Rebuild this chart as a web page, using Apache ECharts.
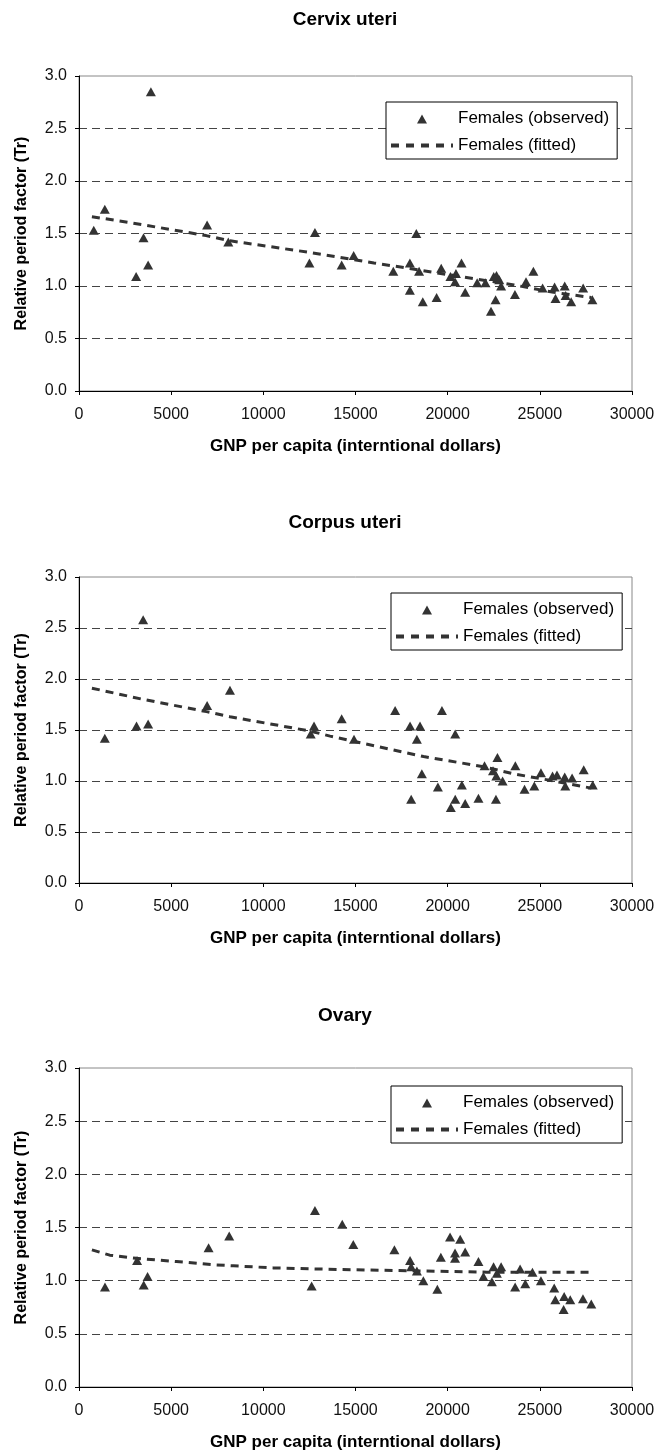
<!DOCTYPE html>
<html>
<head>
<meta charset="utf-8">
<title>Relative period factor vs GNP per capita</title>
<script src="https://cdn.jsdelivr.net/npm/echarts@6.0.0/dist/echarts.min.js"></script>
<style>
  html, body { margin: 0; padding: 0; background: #fff; }
  #chart { width: 659px; height: 1456px; }
</style>
</head>
<body>
<div id="chart"></div>
<script>
// titles and labels
const panelTitles = ['Cervix uteri', 'Corpus uteri', 'Ovary']
const observedName = 'Females (observed)'
const fittedName = 'Females (fitted)'
const xAxisName = 'GNP per capita (interntional dollars)'
const yAxisName = 'Relative period factor (Tr)'
const xMax = 30000
const xStep = 5000
const yMax = 3
const yStep = 0.5

// [GNP per capita, Tr]
const cervixObserved = [
  [800, 1.53], [1400, 1.73], [3900, 2.85], [3100, 1.09], [3500, 1.46], [3750, 1.20],
  [6950, 1.58], [8100, 1.42], [12800, 1.51], [12500, 1.22], [14250, 1.20], [14900, 1.29],
  [18300, 1.50], [17050, 1.14], [17950, 1.22], [17950, 0.96], [18450, 1.14], [18650, 0.85],
  [19400, 0.89], [19650, 1.17], [20150, 1.09], [20400, 1.04], [20450, 1.12], [20750, 1.22],
  [20950, 0.94], [21600, 1.03], [22050, 1.03], [22500, 1.09], [22650, 1.10], [22800, 1.06],
  [22900, 1.00], [22600, 0.87], [22350, 0.76], [23650, 0.92], [24250, 1.04], [24650, 1.14],
  [25150, 0.98], [25800, 0.99], [25850, 0.88], [26350, 1.00], [26400, 0.91], [26700, 0.85],
  [27350, 0.98], [27850, 0.87]
]
const cervixFitted = [
  [700, 1.66], [2900, 1.60], [6900, 1.48], [8200, 1.43], [12500, 1.32], [16000, 1.22],
  [19250, 1.13], [21400, 1.07], [23600, 1.01], [25750, 0.94], [27800, 0.89]
]

const corpusObserved = [
  [1400, 1.42], [3480, 2.58], [3120, 1.54], [3750, 1.56], [6950, 1.74], [8190, 1.89],
  [12750, 1.54], [12570, 1.46], [14250, 1.61], [14920, 1.41], [17150, 1.69], [17960, 1.54],
  [18500, 1.54], [18330, 1.41], [18600, 1.07], [18020, 0.82], [19690, 1.69], [20410, 1.46],
  [19470, 0.94], [20770, 0.96], [20410, 0.82], [20170, 0.74], [20950, 0.78], [21670, 0.83],
  [22000, 1.15], [22700, 1.23], [22460, 1.10], [22640, 1.05], [22980, 1.00], [22620, 0.82],
  [23670, 1.15], [24170, 0.92], [24700, 0.95], [25060, 1.08], [25690, 1.05], [25930, 1.06],
  [26350, 1.04], [26380, 0.95], [26750, 1.03], [27380, 1.11], [27870, 0.96]
]
const corpusFitted = [
  [700, 1.91], [3480, 1.80], [6920, 1.68], [8190, 1.63], [12530, 1.49], [13620, 1.44],
  [14880, 1.39], [18690, 1.24], [21940, 1.14], [23580, 1.07], [25750, 1.00], [27800, 0.93]
]

const ovaryObserved = [
  [1410, 0.94], [3150, 1.19], [3510, 0.96], [3720, 1.04], [7030, 1.31], [8150, 1.42],
  [12800, 1.66], [12620, 0.95], [14280, 1.53], [14880, 1.34], [17110, 1.29], [17960, 1.19],
  [18020, 1.13], [18330, 1.09], [18680, 1.00], [19440, 0.92], [19630, 1.22], [20130, 1.41],
  [20680, 1.39], [20400, 1.26], [20400, 1.21], [20950, 1.27], [21670, 1.18], [21940, 1.04],
  [22400, 0.99], [22490, 1.13], [22670, 1.07], [22900, 1.13], [23660, 0.94], [23930, 1.11],
  [24210, 0.97], [24600, 1.08], [25060, 1.00], [25780, 0.93], [25840, 0.82], [26320, 0.85],
  [26290, 0.73], [26650, 0.82], [27340, 0.83], [27790, 0.78]
]
const ovaryFitted = [
  [700, 1.29], [1670, 1.24], [3120, 1.21], [5290, 1.18], [7280, 1.15], [8370, 1.14],
  [10540, 1.12], [12900, 1.11], [15610, 1.10], [18870, 1.09], [22130, 1.08], [24660, 1.08],
  [27800, 1.08]
]

const observedData = [cervixObserved, corpusObserved, ovaryObserved]
const fittedData = [cervixFitted, corpusFitted, ovaryFitted]

// where each panel sits on the page
const panelLayout = [
  { top: 76, height: 315, titleTop: 10, legendLeft: 386, legendTop: 102 },
  { top: 577, height: 306, titleTop: 513, legendLeft: 391, legendTop: 593 },
  { top: 1068, height: 319, titleTop: 1006, legendLeft: 391, legendTop: 1086 }
]

const fontFamily = '"Liberation Sans", Arial, Helvetica, sans-serif'
const ink = '#333'
// legend icons, 62 x 10 boxes (tiny corner squares keep the box size)
const corners = 'M0,0h0.01v0.01h-0.01zM61.99,9.99h0.01v0.01h-0.01z'
const triangleIcon = 'path://' + corners + 'M26,10L31,1L36,10z'
const dashIcon = 'path://' + corners + 'M0,3h8v4h-8zM15,3h8v4h-8zM30,3h8v4h-8zM45,3h8v4h-8zM60,3h2v4h-2z'

const option = {
  animation: false,
  backgroundColor: '#fff',
  textStyle: { fontFamily: fontFamily, color: '#000' },
  title: panelLayout.map((p, i) => ({
    text: panelTitles[i],
    left: 345,
    top: p.titleTop,
    textAlign: 'center',
    padding: 0,
    textStyle: { fontFamily: fontFamily, fontSize: 19, fontWeight: 'bold', color: '#000' }
  })),
  legend: panelLayout.map(p => ({
    orient: 'vertical',
    left: p.legendLeft,
    top: p.legendTop,
    padding: [8, 8, 5, 5],
    itemWidth: 62,
    itemHeight: 10,
    itemGap: 10,
    symbolKeepAspect: true,
    selectedMode: false,
    backgroundColor: '#fff',
    borderColor: '#000',
    borderWidth: 1,
    borderRadius: 0,
    textStyle: { fontFamily: fontFamily, fontSize: 17, lineHeight: 17, color: '#000' },
    data: [
      { name: observedName, icon: triangleIcon, itemStyle: { color: ink, borderWidth: 0 } },
      { name: fittedName, icon: dashIcon, itemStyle: { color: ink, borderWidth: 0 } }
    ]
  })),
  grid: panelLayout.map(p => ({
    left: 79,
    right: 27,
    top: p.top,
    height: p.height,
    show: true,
    borderColor: '#888',
    borderWidth: 1,
    backgroundColor: 'transparent'
  })),
  xAxis: panelLayout.map((p, i) => ({
    gridIndex: i,
    type: 'value',
    min: 0,
    max: xMax,
    interval: xStep,
    name: xAxisName,
    nameLocation: 'middle',
    nameGap: 47,
    nameTextStyle: { fontFamily: fontFamily, fontSize: 17, fontWeight: 'bold', color: '#000' },
    axisLine: { show: true, onZero: false, lineStyle: { color: '#000', width: 1 } },
    axisTick: { show: true, length: 4, lineStyle: { color: '#000' } },
    axisLabel: { fontSize: 16, color: '#111', margin: 16, showMaxLabel: true, formatter: v => String(v) },
    splitLine: { show: false }
  })),
  yAxis: panelLayout.map((p, i) => ({
    gridIndex: i,
    type: 'value',
    min: 0,
    max: yMax,
    interval: yStep,
    name: yAxisName,
    nameLocation: 'middle',
    nameGap: 49,
    nameTextStyle: { fontFamily: fontFamily, fontSize: 16, fontWeight: 'bold', color: '#000' },
    axisLine: { show: true, onZero: false, lineStyle: { color: '#000', width: 1 } },
    axisTick: { show: true, length: 4, lineStyle: { color: '#000' } },
    axisLabel: { fontSize: 16, color: '#111', margin: 12, formatter: v => v.toFixed(1) },
    splitLine: {
      show: true,
      showMinLine: false,
      showMaxLine: false,
      lineStyle: { color: '#444', width: 1, type: [8, 5] }
    }
  })),
  series: []
}

panelLayout.forEach((p, i) => {
  option.series.push({
    name: fittedName,
    type: 'line',
    xAxisIndex: i,
    yAxisIndex: i,
    data: fittedData[i],
    symbol: 'none',
    smooth: false,
    color: ink,
    itemStyle: { color: ink },
    lineStyle: { color: ink, width: 3, type: [8, 6] },
    z: 3
  })
  option.series.push({
    name: observedName,
    type: 'scatter',
    xAxisIndex: i,
    yAxisIndex: i,
    data: observedData[i],
    symbol: 'triangle',
    symbolSize: [10, 9],
    itemStyle: { color: ink, opacity: 1 },
    z: 4
  })
})

const myChart = echarts.init(document.getElementById('chart'), null, { renderer: 'canvas' })
myChart.setOption(option)

window.addEventListener('resize', () => {
  myChart && myChart.resize()
})
</script>
</body>
</html>
